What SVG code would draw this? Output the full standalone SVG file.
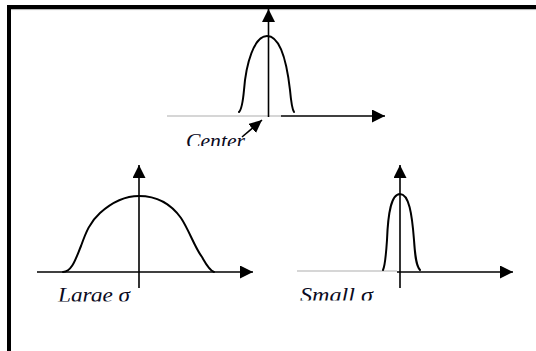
<svg xmlns="http://www.w3.org/2000/svg" width="536" height="351" viewBox="0 0 536 351">
  <style>
    .axis { stroke: #000; stroke-width: 1.6; fill: none; }
    .ghost { stroke: #c8c8c8; stroke-width: 1.4; fill: none; }
    .curve { stroke: #000; stroke-width: 2; fill: none; stroke-linecap: round; }
    .lbl { font-family: "Liberation Serif", "Times New Roman", serif; font-style: italic; font-size: 22px; fill: #0b0b1e; }
    .frame { stroke: #000; stroke-width: 4; fill: none; }
  </style>
  <defs>
    <marker id="ah" markerUnits="userSpaceOnUse" markerWidth="14" markerHeight="13" refX="13" refY="6.5" orient="auto">
      <path d="M0,0 L13,6.5 L0,13 z" fill="#000"/>
    </marker>
    <marker id="ahs" markerUnits="userSpaceOnUse" markerWidth="14" markerHeight="12" refX="13" refY="6" orient="auto">
      <path d="M0,0 L13,6 L0,12 z" fill="#000"/>
    </marker>
    <clipPath id="clipCenter"><rect x="170" y="120" width="90" height="26"/></clipPath>
    <clipPath id="clipLarge"><rect x="40" y="280" width="110" height="21.5"/></clipPath>
    <clipPath id="clipSmall"><rect x="290" y="280" width="110" height="20.5"/></clipPath>
  </defs>

  <rect width="536" height="351" fill="#fff"/>

  <g id="frame">
    <path class="frame" d="M9,351 L9,7 L536,7"/>
    <line x1="11" y1="9.6" x2="536" y2="9.6" stroke="#9a9a9a" stroke-width="0.8"/>
  </g>

  <g id="top-plot">
    <line class="ghost" x1="167" y1="116" x2="281" y2="116"/>
    <line class="axis" x1="281" y1="116" x2="385" y2="116" marker-end="url(#ah)"/>
    <line class="axis" x1="268.5" y1="117" x2="268.5" y2="9" marker-end="url(#ah)"/>
    <path class="curve" d="M239,112 C242,109 243,101 244,90 C246,64 254,36 267,36 C281,36 287,64 290,90 C291,101 292,109 294,112"/>
    <text class="lbl" x="186" y="147.5" textLength="59" lengthAdjust="spacingAndGlyphs" clip-path="url(#clipCenter)">Center</text>
  </g>

  <g id="large-sigma-plot">
    <line class="axis" x1="37" y1="272" x2="253" y2="272" marker-end="url(#ah)"/>
    <line class="axis" x1="139" y1="288" x2="139" y2="165" marker-end="url(#ah)"/>
    <path class="curve" d="M63,272 C72,272 76,258 81,246 C86,232 90,222 100,213 C110,204 124,196 139,196 C156,196 171,204 181,218 C189,230 195,248 202,257 C206,264 209,270 214,272"/>
    <text class="lbl" x="58" y="302" textLength="72" lengthAdjust="spacingAndGlyphs" clip-path="url(#clipLarge)">Large σ</text>
  </g>

  <g id="small-sigma-plot">
    <line class="ghost" x1="297" y1="271" x2="397" y2="271"/>
    <line class="axis" x1="397" y1="272" x2="513" y2="272" marker-end="url(#ah)"/>
    <line class="axis" x1="400" y1="288" x2="400" y2="165" marker-end="url(#ah)"/>
    <path class="curve" d="M383,270 C385,266 386,255 387,240 C388,214 391,194 400,194 C409,194 412,214 414,240 C415,255 416,266 420,270"/>
    <text class="lbl" x="300" y="301.5" textLength="73" lengthAdjust="spacingAndGlyphs" clip-path="url(#clipSmall)">Small σ</text>
  </g>

  <g id="connectors">
    <line class="axis" x1="242" y1="137" x2="262" y2="120" marker-end="url(#ahs)"/>
  </g>
</svg>
